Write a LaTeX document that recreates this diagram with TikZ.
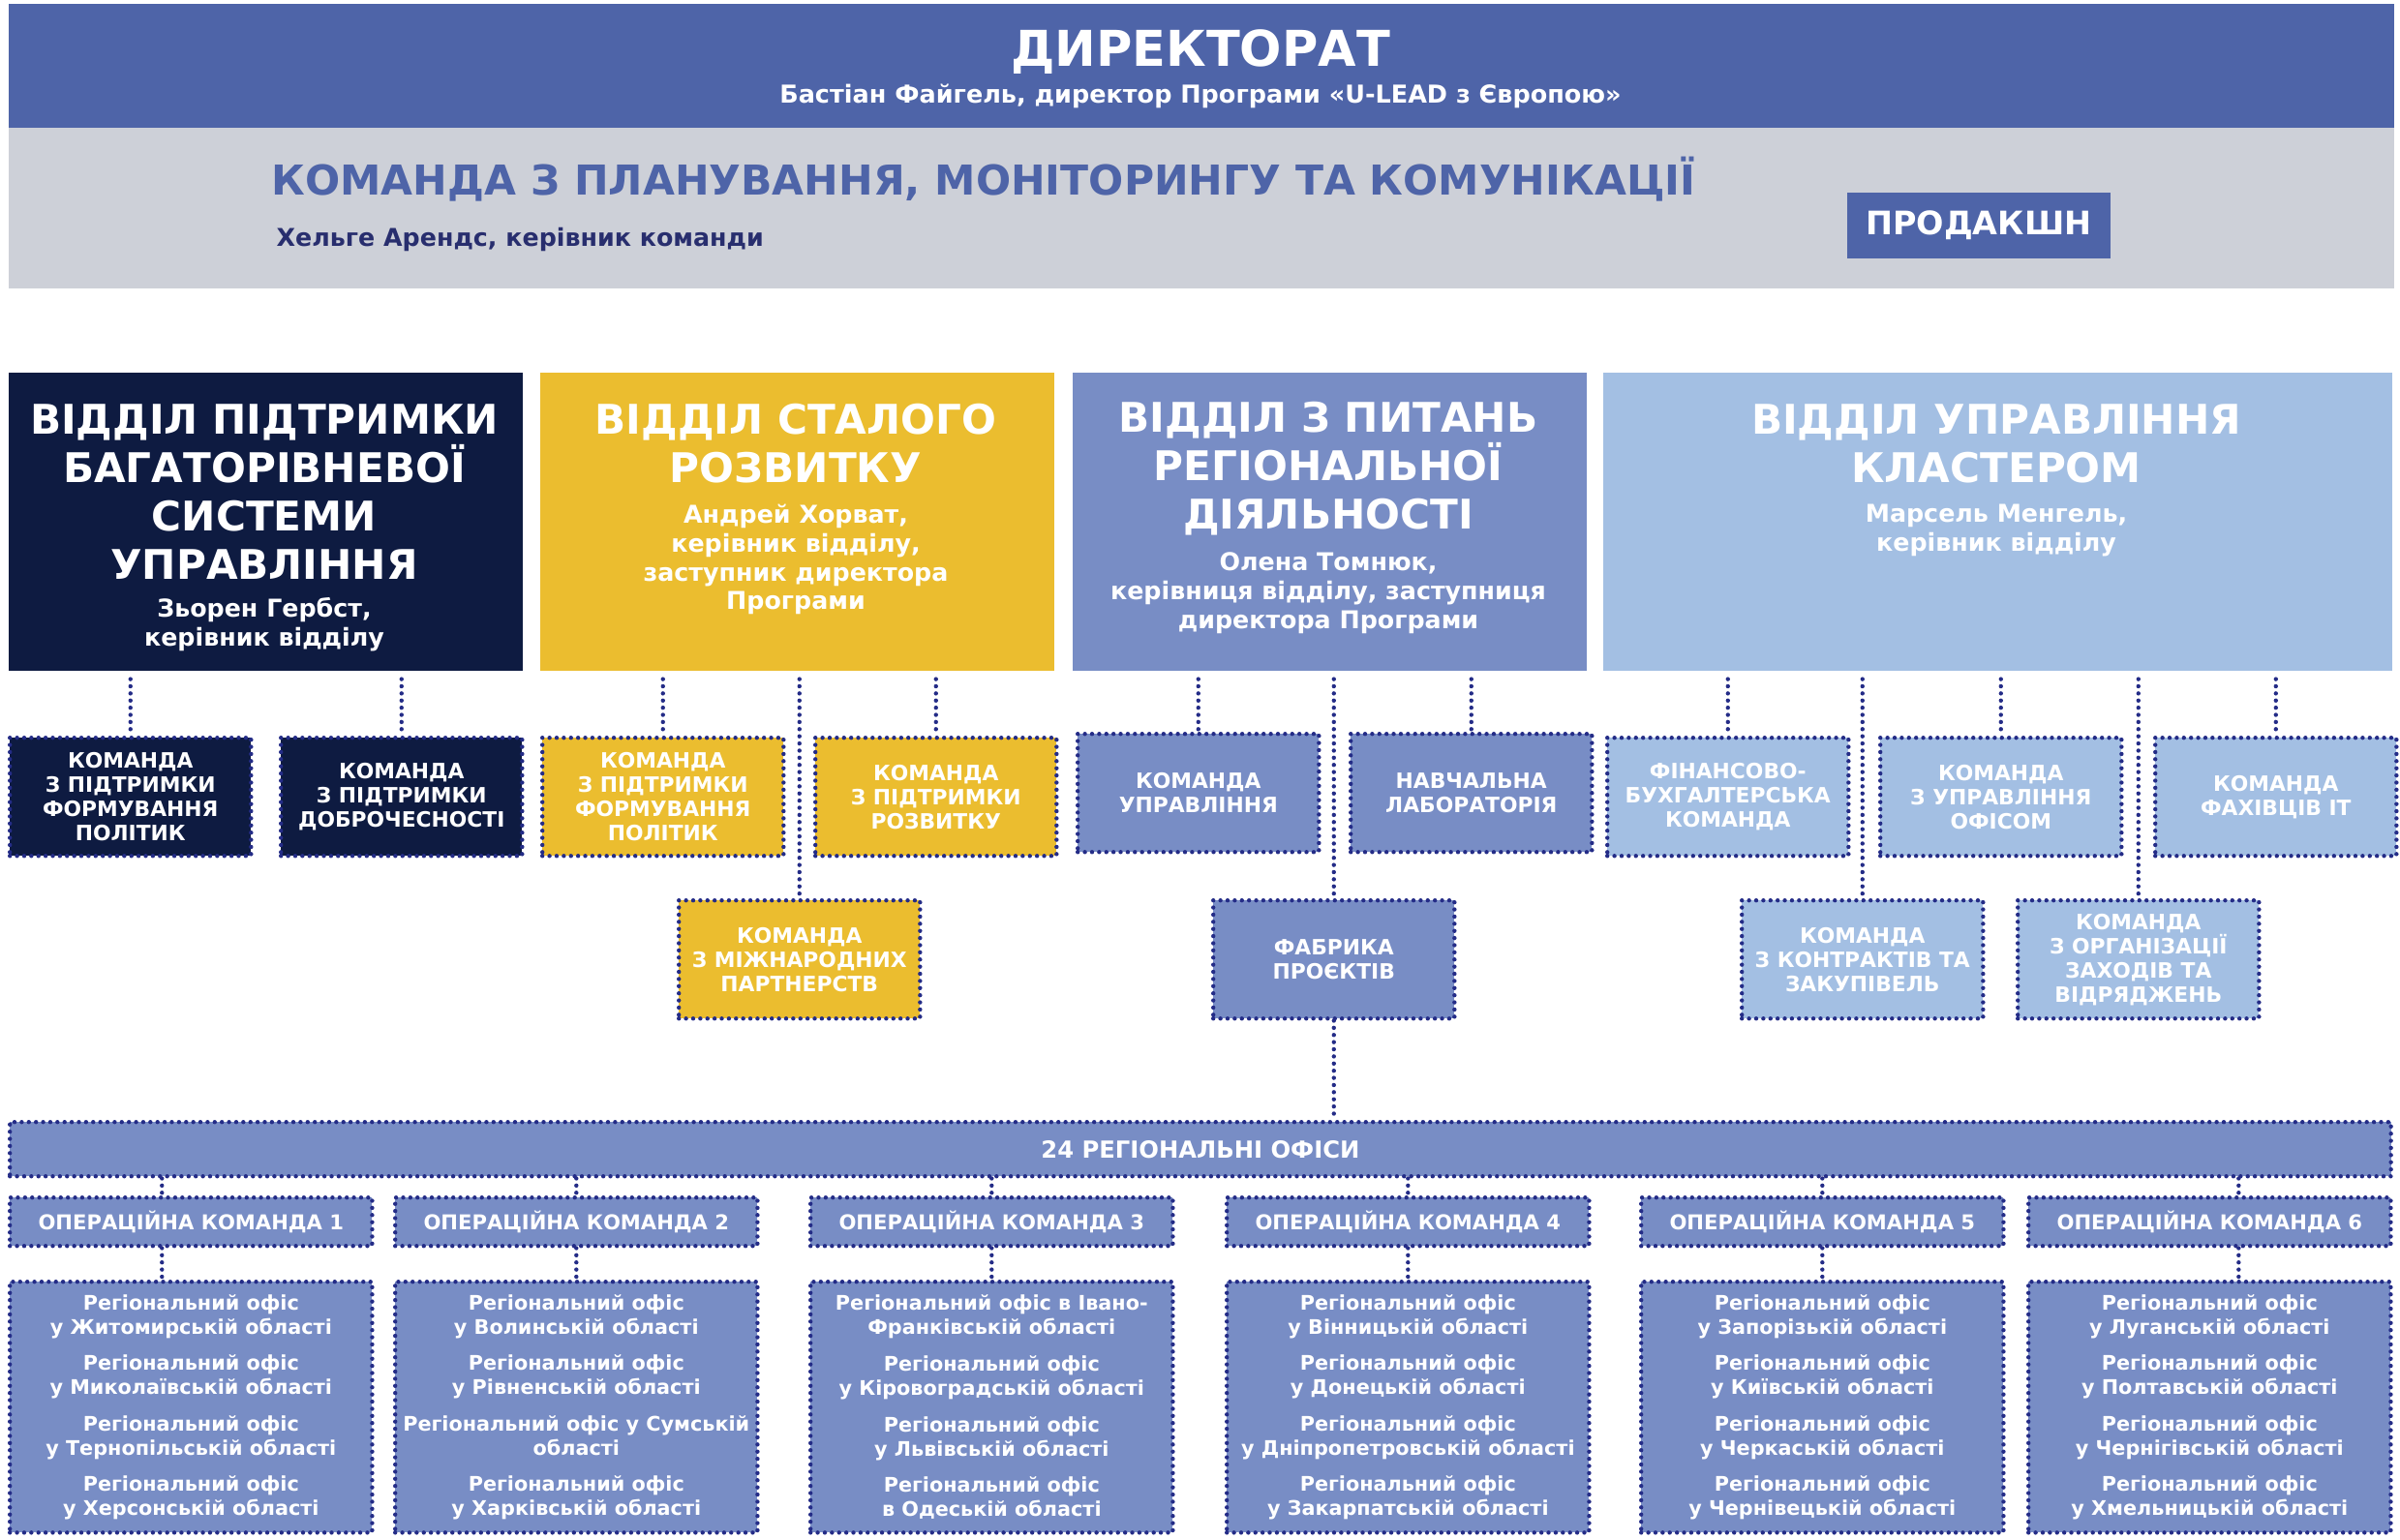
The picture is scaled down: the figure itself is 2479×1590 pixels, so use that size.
\documentclass[tikz,border=0pt]{standalone}
\usepackage{fontspec}
\setmainfont{DejaVu Sans}
\usepackage{xcolor}
\usepackage{tikz}
\usetikzlibrary{positioning}
\definecolor{uleadBlue}{RGB}{78,100,168}
\definecolor{uleadGray}{RGB}{205,208,216}
\definecolor{uleadInk}{RGB}{40,46,110}
\definecolor{uleadNavy}{RGB}{14,27,65}
\definecolor{uleadGold}{RGB}{235,189,47}
\definecolor{uleadMid}{RGB}{120,141,197}
\definecolor{uleadLight}{RGB}{163,191,227}
\definecolor{uleadDots}{RGB}{36,44,135}

\begin{document}
\begin{tikzpicture}[x=0.01cm, y=-0.01cm,
    band/.style={rectangle, inner sep=0pt, anchor=north west},
    dept/.style={rectangle, inner sep=0pt, anchor=north west,
        minimum width=5.31cm, minimum height=3.08cm},
    dtitle/.style={text=white, align=center, inner sep=0pt,
        font=\bfseries\fontsize{12}{14.2}\selectfont},
    dname/.style={text=white, align=center, inner sep=0pt,
        font=\bfseries\fontsize{7.2}{8.5}\selectfont},
    dots/.style={draw=uleadDots, line width=1.25pt,
        dash pattern=on 0pt off 2.1pt, line cap=round},
    team/.style={rectangle, dots, text=white, align=center, inner sep=0pt,
        anchor=north west, minimum width=2.49cm, minimum height=1.22cm,
        font=\bfseries\fontsize{6.2}{7.1}\selectfont},
    link/.style={dots},
    ops/.style={team, fill=uleadMid, minimum width=3.74cm, minimum height=0.5cm,
        font=\bfseries\fontsize{6}{7}\selectfont},
    office/.style={team, fill=uleadMid, minimum width=3.74cm, minimum height=2.59cm,
        font=\bfseries\fontsize{5.9}{7.1}\selectfont}
]
\fill[white] (0,0) rectangle (2479,1590);
\useasboundingbox (0,0) rectangle (2479,1590);

% directorate and planning team
\node[band, fill=uleadBlue, minimum width=24.63cm, minimum height=1.28cm] (dir) at (8,3) {};
\node[text=white, font=\bfseries\fontsize{14.5}{16}\selectfont] (dirtitle) at (1240,54) {ДИРЕКТОРАТ};
\node[text=white, font=\bfseries\fontsize{7.25}{9}\selectfont] (dirname) at (1240,99)
    {Бастіан Файгель, директор Програми «U-LEAD з Європою»};
\node[band, fill=uleadGray, minimum width=24.63cm, minimum height=1.66cm] (pmc) at (8,131) {};
\node[anchor=west, inner sep=0pt, text=uleadBlue, font=\bfseries\fontsize{12.1}{14}\selectfont]
    (pmctitle) at (280,185) {КОМАНДА З ПЛАНУВАННЯ, МОНІТОРИНГУ ТА КОМУНІКАЦІЇ};
\node[anchor=west, inner sep=0pt, text=uleadInk, font=\bfseries\fontsize{7.2}{9}\selectfont]
    (pmcname) at (285,248) {Хельге Арендс, керівник команди};
\node[band, fill=uleadBlue, minimum width=2.72cm, minimum height=0.68cm, text=white,
    font=\bfseries\fontsize{9.5}{12}\selectfont] (prod) at (1907,198) {ПРОДАКШН};

% departments
\node[dept, fill=uleadNavy] (mlg) at (8,384) {};
\node[dtitle] (mlgtitle) at (273,508) {ВІДДІЛ ПІДТРИМКИ\\БАГАТОРІВНЕВОЇ\\СИСТЕМИ\\УПРАВЛІННЯ};
\node[dname] (mlgname) at (273,645) {Зьорен Гербст,\\керівник відділу};
\node[dept, fill=uleadGold] (sust) at (557,384) {};
\node[dtitle] (susttitle) at (822,458) {ВІДДІЛ СТАЛОГО\\РОЗВИТКУ};
\node[dname] (sustname) at (822,578) {Андрей Хорват,\\керівник відділу,\\заступник директора\\Програми};
\node[dept, fill=uleadMid] (regdep) at (1107,384) {};
\node[dtitle] (regtitle) at (1372,484) {ВІДДІЛ З ПИТАНЬ\\РЕГІОНАЛЬНОЇ\\ДІЯЛЬНОСТІ};
\node[dname] (regname) at (1372,613) {Олена Томнюк,\\керівниця відділу, заступниця\\директора Програми};
\node[dept, fill=uleadLight, minimum width=8.15cm] (clus) at (1655,384) {};
\node[dtitle] (clustitle) at (2062,458) {ВІДДІЛ УПРАВЛІННЯ\\КЛАСТЕРОМ};
\node[dname] (clusname) at (2062,548) {Марсель Менгель,\\керівник відділу};

% teams
\node[team, fill=uleadNavy] (mlgpol) at (8,760) {КОМАНДА\\З ПІДТРИМКИ\\ФОРМУВАННЯ\\ПОЛІТИК};
\node[team, fill=uleadNavy] (mlgint) at (288,760) {КОМАНДА\\З ПІДТРИМКИ\\ДОБРОЧЕСНОСТІ};
\node[team, fill=uleadGold] (sustpol) at (558,760) {КОМАНДА\\З ПІДТРИМКИ\\ФОРМУВАННЯ\\ПОЛІТИК};
\node[team, fill=uleadGold] (sustdev) at (840,760) {КОМАНДА\\З ПІДТРИМКИ\\РОЗВИТКУ};
\node[team, fill=uleadGold] (sustint) at (699,928) {КОМАНДА\\З МІЖНАРОДНИХ\\ПАРТНЕРСТВ};
\node[team, fill=uleadMid] (regman) at (1111,756) {КОМАНДА\\УПРАВЛІННЯ};
\node[team, fill=uleadMid] (reglab) at (1393,756) {НАВЧАЛЬНА\\ЛАБОРАТОРІЯ};
\node[team, fill=uleadMid] (regfab) at (1251,928) {ФАБРИКА\\ПРОЄКТІВ};
\node[team, fill=uleadLight] (clusfin) at (1658,760) {ФІНАНСОВО-\\БУХГАЛТЕРСЬКА\\КОМАНДА};
\node[team, fill=uleadLight] (clusoff) at (1940,760) {КОМАНДА\\З УПРАВЛІННЯ\\ОФІСОМ};
\node[team, fill=uleadLight] (clusit) at (2224,760) {КОМАНДА\\ФАХІВЦІВ ІТ};
\node[team, fill=uleadLight] (cluscon) at (1797,928) {КОМАНДА\\З КОНТРАКТІВ ТА\\ЗАКУПІВЕЛЬ};
\node[team, fill=uleadLight] (clusev) at (2082,928) {КОМАНДА\\З ОРГАНІЗАЦІЇ\\ЗАХОДІВ ТА\\ВІДРЯДЖЕНЬ};

% regional offices
\node[ops, minimum width=24.58cm, minimum height=0.56cm, font=\bfseries\fontsize{6.9}{8}\selectfont]
    (offices) at (8,1157) {24 РЕГІОНАЛЬНІ ОФІСИ};
\node[ops] (ot1) at (8,1235) {ОПЕРАЦІЙНА КОМАНДА 1};
\node[ops] (ot2) at (406,1235) {ОПЕРАЦІЙНА КОМАНДА 2};
\node[ops] (ot3) at (835,1235) {ОПЕРАЦІЙНА КОМАНДА 3};
\node[ops] (ot4) at (1265,1235) {ОПЕРАЦІЙНА КОМАНДА 4};
\node[ops] (ot5) at (1693,1235) {ОПЕРАЦІЙНА КОМАНДА 5};
\node[ops] (ot6) at (2093,1235) {ОПЕРАЦІЙНА КОМАНДА 6};
\node[office] (ro1) at (8,1322)
    {Регіональний офіс\\у Житомирській області\\[3.6pt]
     Регіональний офіс\\у Миколаївській області\\[3.6pt]
     Регіональний офіс\\у Тернопільській області\\[3.6pt]
     Регіональний офіс\\у Херсонській області};
\node[office] (ro2) at (406,1322)
    {Регіональний офіс\\у Волинській області\\[3.6pt]
     Регіональний офіс\\у Рівненській області\\[3.6pt]
     Регіональний офіс у Сумській\\області\\[3.6pt]
     Регіональний офіс\\у Харківській області};
\node[office] (ro3) at (835,1322)
    {Регіональний офіс в Івано-\\Франківській області\\[3.6pt]
     Регіональний офіс\\у Кіровоградській області\\[3.6pt]
     Регіональний офіс\\у Львівській області\\[3.6pt]
     Регіональний офіс\\в Одеській області};
\node[office] (ro4) at (1265,1322)
    {Регіональний офіс\\у Вінницькій області\\[3.6pt]
     Регіональний офіс\\у Донецькій області\\[3.6pt]
     Регіональний офіс\\у Дніпропетровській області\\[3.6pt]
     Регіональний офіс\\у Закарпатській області};
\node[office] (ro5) at (1693,1322)
    {Регіональний офіс\\у Запорізькій області\\[3.6pt]
     Регіональний офіс\\у Київській області\\[3.6pt]
     Регіональний офіс\\у Черкаській області\\[3.6pt]
     Регіональний офіс\\у Чернівецькій області};
\node[office] (ro6) at (2093,1322)
    {Регіональний офіс\\у Луганській області\\[3.6pt]
     Регіональний офіс\\у Полтавській області\\[3.6pt]
     Регіональний офіс\\у Чернігівській області\\[3.6pt]
     Регіональний офіс\\у Хмельницькій області};

% connectors
\draw[link] ([yshift=-0.08cm]mlgpol.north |- mlg.south) -- (mlgpol.north);
\draw[link] ([yshift=-0.08cm]mlgint.north |- mlg.south) -- (mlgint.north);
\draw[link] ([yshift=-0.08cm]sustpol.north |- sust.south) -- (sustpol.north);
\draw[link] ([yshift=-0.08cm]sustdev.north |- sust.south) -- (sustdev.north);
\draw[link] ([yshift=-0.08cm]sustint.north |- sust.south) -- (sustint.north);
\draw[link] ([yshift=-0.08cm]regman.north |- regdep.south) -- (regman.north);
\draw[link] ([yshift=-0.08cm]reglab.north |- regdep.south) -- (reglab.north);
\draw[link] ([yshift=-0.08cm]regfab.north |- regdep.south) -- (regfab.north);
\draw[link] ([yshift=-0.08cm]clusfin.north |- clus.south) -- (clusfin.north);
\draw[link] ([yshift=-0.08cm]clusoff.north |- clus.south) -- (clusoff.north);
\draw[link] ([yshift=-0.08cm]clusit.north |- clus.south) -- (clusit.north);
\draw[link] ([yshift=-0.08cm]cluscon.north |- clus.south) -- (cluscon.north);
\draw[link] ([yshift=-0.08cm]clusev.north |- clus.south) -- (clusev.north);
\draw[link] (regfab.south) -- (regfab.south |- offices.north);
\draw[link] ([xshift=-0.3cm]ot1.north |- offices.south) -- ([xshift=-0.3cm]ot1.north);
\draw[link] (ot2.north |- offices.south) -- (ot2.north);
\draw[link] (ot3.north |- offices.south) -- (ot3.north);
\draw[link] (ot4.north |- offices.south) -- (ot4.north);
\draw[link] (ot5.north |- offices.south) -- (ot5.north);
\draw[link] ([xshift=0.3cm]ot6.north |- offices.south) -- ([xshift=0.3cm]ot6.north);
\draw[link] ([xshift=-0.3cm]ot1.south) -- ([xshift=-0.3cm]ro1.north);
\draw[link] (ot2.south) -- (ro2.north);
\draw[link] (ot3.south) -- (ro3.north);
\draw[link] (ot4.south) -- (ro4.north);
\draw[link] (ot5.south) -- (ro5.north);
\draw[link] ([xshift=0.3cm]ot6.south) -- ([xshift=0.3cm]ro6.north);
\end{tikzpicture}
\end{document}
